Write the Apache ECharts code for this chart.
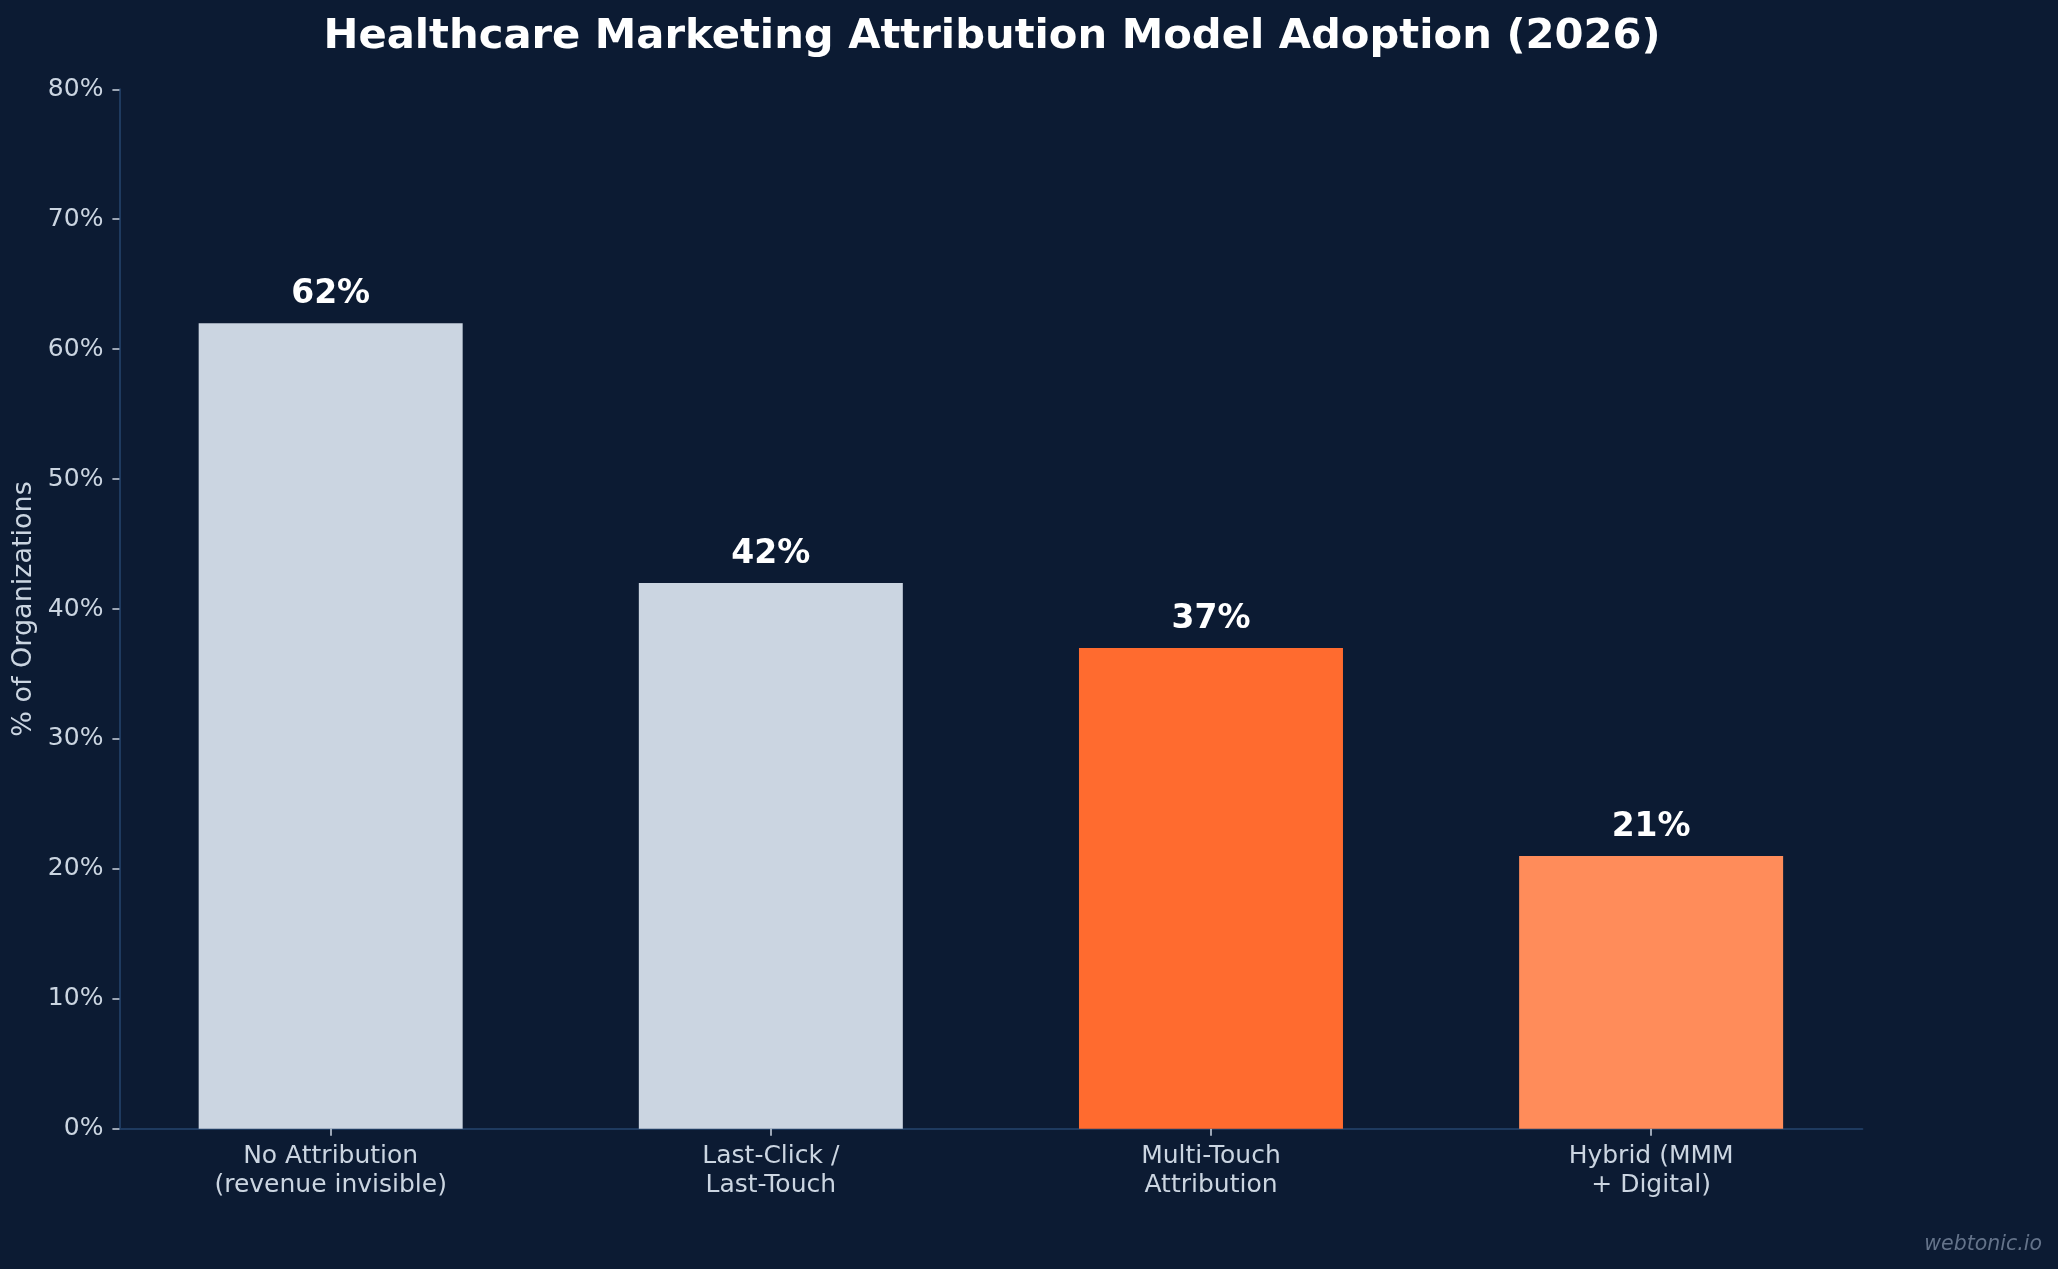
<!DOCTYPE html>
<html>
<head>
<meta charset="utf-8">
<script src="https://cdn.jsdelivr.net/npm/echarts@6/dist/echarts.min.js"></script>
<style>
html,body{margin:0;padding:0;background:#0c1b33;}
#chart{width:2058px;height:1269px;}
</style>
</head>
<body>
<div id="chart"></div>
<script>
const categories = ["No Attribution\n(revenue invisible)", "Last-Click /\nLast-Touch", "Multi-Touch\nAttribution", "Hybrid (MMM\n+ Digital)"];
const values = [62, 42, 37, 21];
const barColors = ["#cbd5e1", "#cbd5e1", "#ff6b2f", "#ff8c5a"];
const yTicks = [0, 10, 20, 30, 40, 50, 60, 70, 80];

const FONT = "DejaVu Sans";
const AX = "#1e3a5f";
const TXT = "#cbd5e1";
const chart = echarts.init(document.getElementById('chart'));
chart.setOption({
  backgroundColor: "#0c1b33",
  animation: false,
  title: {
    text: "Healthcare Marketing Attribution Model Adoption (2026)",
    left: 987,
    textAlign: "center",
    top: 11,
    textStyle: {color: "#ffffff", fontFamily: FONT, fontWeight: "bold", fontSize: 41.7}
  },
  graphic: [{
    type: "text",
    right: 16,
    bottom: 14,
    style: {text: "webtonic.io", fill: "#64738a", font: "italic 20.5px 'DejaVu Sans'"}
  }],
  grid: [
    {left: 110.6, right: 186.8, top: 89.25, bottom: 140.25, containLabel: false},
    {left: 119.4, right: 195.6, top: 89.25, bottom: 140.25, containLabel: false}
  ],
  xAxis: [{
    type: "category",
    gridIndex: 0,
    data: categories,
    axisLine: {show: false},
    axisTick: {show: true, alignWithLabel: true, length: 7, lineStyle: {color: TXT, width: 1.5}},
    axisLabel: {color: TXT, fontFamily: FONT, fontSize: 25, lineHeight: 29, margin: 13, interval: 0}
  }, {
    type: "value",
    gridIndex: 1,
    min: 0,
    max: 1,
    axisLine: {show: true, lineStyle: {color: AX, width: 2}},
    axisTick: {show: false},
    axisLabel: {show: false},
    splitLine: {show: false}
  }],
  yAxis: [{
    type: "value",
    gridIndex: 0,
    offset: -8.8,
    min: yTicks[0],
    max: yTicks[yTicks.length - 1],
    interval: 10,
    splitLine: {show: false},
    axisLine: {show: true, lineStyle: {color: AX, width: 2}},
    axisTick: {show: true, length: 7, lineStyle: {color: TXT, width: 1.5}},
    axisLabel: {color: TXT, fontFamily: FONT, fontSize: 25, margin: 16, formatter: v => v + "%"}
  }, {
    type: "value",
    gridIndex: 1,
    min: 0,
    max: 80,
    name: "% of Organizations",
    nameLocation: "middle",
    nameGap: 82,
    nameRotate: 90,
    nameTextStyle: {color: TXT, fontFamily: FONT, fontSize: 27},
    axisLine: {show: false},
    axisTick: {show: false},
    axisLabel: {show: false},
    splitLine: {show: false}
  }],
  series: [{
    type: "bar",
    xAxisIndex: 0,
    yAxisIndex: 0,
    data: values.map((v, i) => ({value: v, itemStyle: {color: barColors[i]}})),
    barWidth: 264,
    label: {
      show: true,
      position: "top",
      distance: 12,
      color: "#ffffff",
      fontFamily: FONT,
      fontWeight: "bold",
      fontSize: 33,
      formatter: p => p.value + "%"
    }
  }]
});
</script>
</body>
</html>
